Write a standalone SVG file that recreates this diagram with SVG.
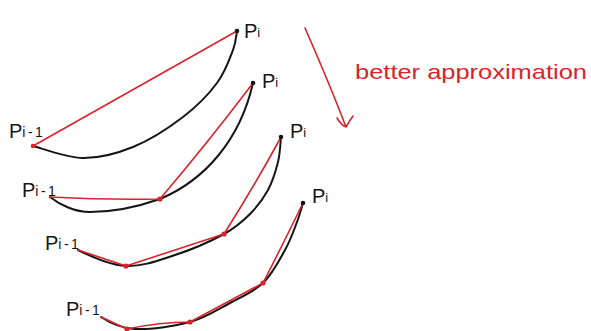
<svg xmlns="http://www.w3.org/2000/svg" width="591" height="331" viewBox="0 0 591 331">
<style>
.blk{fill:none;stroke:#151515;stroke-width:2;stroke-linecap:round;stroke-linejoin:round}
.red{fill:none;stroke:#d9232b;stroke-width:1.6;stroke-linecap:round;stroke-linejoin:round}
.rd{fill:#d9232b}
.bd{fill:#151515}
.lbl{font-family:"Liberation Sans","DejaVu Sans",sans-serif;fill:#151515}
.note{font-family:"Liberation Sans","DejaVu Sans",sans-serif;fill:#d9232b}
</style>
<rect width="591" height="331" fill="#ffffff"/>

<g id="step1">
<path class="blk" d="M33,146 C41.3,148 66.3,157.8 83,158 C99.7,158.2 116.3,153.8 133,147 C149.7,140.2 169,127.7 183,117 C197,106.3 208.7,94.2 217,83 C225.3,71.8 229.7,58.7 233,50 C236.3,41.3 236.3,34.2 237,31"/>
<path class="red" d="M33,146 L237,31"/>
<circle class="rd" cx="33" cy="146" r="2.3"/>
<circle class="bd" cx="237" cy="31" r="2.3"/>
<text class="lbl" x="9" y="138" font-size="20">P<tspan font-size="14" letter-spacing="2.5" dy="-1">i-1</tspan></text>
<text class="lbl" x="244" y="38" font-size="20">P<tspan font-size="13" dy="-1">i</tspan></text>
</g>

<g id="step2">
<path class="blk" d="M50,197 C60,205 75,212 90,212 C115,212 140,206 160,199 C205,180 240,140 253,83"/>
<path class="red" d="M50,197 Q105,200 160,199 Q210,140 253,83"/>
<circle class="rd" cx="160" cy="199" r="2.6"/>
<circle class="bd" cx="253" cy="83" r="2.3"/>
<text class="lbl" x="22" y="197" font-size="20">P<tspan font-size="14" letter-spacing="2.5" dy="-1">i-1</tspan></text>
<text class="lbl" x="262" y="88" font-size="20">P<tspan font-size="13" dy="-1">i</tspan></text>
</g>

<g id="step3">
<path class="blk" d="M78,250 C86,254 109.8,265.2 126,266 C142.2,266.8 158.7,260.3 175,255 C191.3,249.7 211.5,240.8 224,234 C236.5,227.2 242.7,221.3 250,214 C257.3,206.7 263.3,198.7 268,190 C272.7,181.3 275.8,170.8 278,162 C280.2,153.2 280.5,141.2 281,137"/>
<path class="red" d="M78,250 L126,266 L224,234 Q255,185 281,137"/>
<circle class="rd" cx="126" cy="266" r="2.6"/>
<circle class="rd" cx="224" cy="234" r="2.6"/>
<circle class="bd" cx="281" cy="137" r="2.3"/>
<text class="lbl" x="45" y="250" font-size="20">P<tspan font-size="14" letter-spacing="2.5" dy="-1">i-1</tspan></text>
<text class="lbl" x="290" y="138" font-size="20">P<tspan font-size="13" dy="-1">i</tspan></text>
</g>

<g id="step4">
<path class="blk" d="M101,317 C107,321 120.2,328.2 135,329 C149.8,329.8 174.2,326.3 190,322 C205.8,317.7 217.8,309.5 230,303 C242.2,296.5 253.8,291.8 263,283 C272.2,274.2 279.3,260.2 285,250 C290.7,239.8 294,229.8 297,222 C300,214.2 302,206.2 303,203"/>
<path class="red" d="M101,317 L127,329 Q160,322 190,322 L263,283 Q285,240 303,203"/>
<circle class="rd" cx="127" cy="329" r="2.6"/>
<circle class="rd" cx="190" cy="322" r="2.6"/>
<circle class="rd" cx="263" cy="283" r="2.6"/>
<circle class="bd" cx="303" cy="203" r="2.3"/>
<text class="lbl" x="66" y="316" font-size="20">P<tspan font-size="14" letter-spacing="2.5" dy="-1">i-1</tspan></text>
<text class="lbl" x="312" y="203" font-size="20">P<tspan font-size="13" dy="-1">i</tspan></text>
</g>

<g id="trend">
<path class="red" d="M305,28 Q330,85 346,127 M337,118 Q342,126 346,127 Q350,120 353,116"/>
<text class="note" x="355" y="79" font-size="21" textLength="232" lengthAdjust="spacingAndGlyphs">better approximation</text>
</g>
</svg>
